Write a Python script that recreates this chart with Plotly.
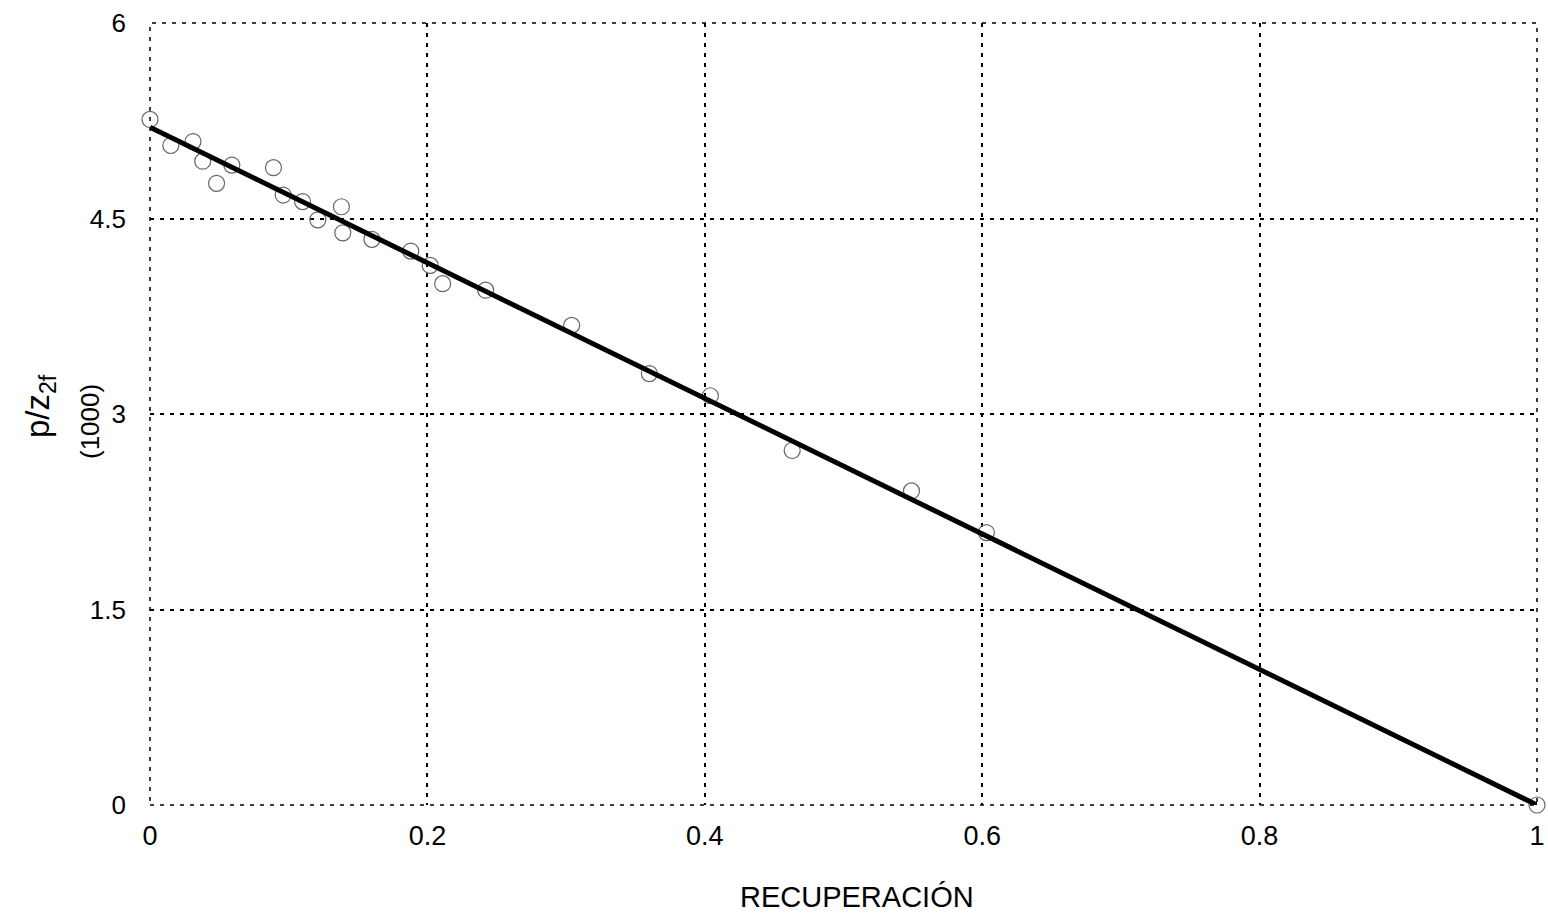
import plotly.graph_objects as go

# Data
recuperacion = [0.0, 0.015, 0.031, 0.038, 0.048, 0.059, 0.089, 0.096, 0.110, 0.121,
                0.138, 0.139, 0.160, 0.188, 0.202, 0.211, 0.242, 0.304, 0.360,
                0.404, 0.463, 0.549, 0.603, 1.0]
p_z = [5.26, 5.06, 5.09, 4.94, 4.77, 4.91, 4.89, 4.68, 4.63, 4.49,
       4.59, 4.39, 4.34, 4.25, 4.14, 4.00, 3.95, 3.68, 3.31,
       3.14, 2.72, 2.41, 2.09, 0.0]
fit_x = [0.0, 1.0]
fit_y = [5.2, 0.0]

x_ticks = [0, 0.2, 0.4, 0.6, 0.8, 1]
x_labels = ["0", "0.2", "0.4", "0.6", "0.8", "1"]
y_ticks = [0, 1.5, 3, 4.5, 6]
y_labels = ["0", "1.5", "3", "4.5", "6"]

font_family = "Liberation Sans, Arial, sans-serif"
grid_dash = "4px,6px"

fig = go.Figure()
fig.add_trace(go.Scatter(
    x=recuperacion, y=p_z, mode="markers",
    marker=dict(symbol="circle-open", size=16, color="#666666", line=dict(width=1.2)),
    showlegend=False, cliponaxis=False))
fig.add_trace(go.Scatter(
    x=fit_x, y=fit_y, mode="lines",
    line=dict(color="black", width=5), showlegend=False))

# dotted frame (gridlines at the range edges)
fig.add_shape(type="rect", xref="x domain", yref="y domain", x0=0, x1=1, y0=0, y1=1,
              line=dict(color="black", width=1.5, dash=grid_dash), layer="below")

fig.update_layout(
    width=1548, height=918,
    margin=dict(l=150, r=11, t=23, b=113),
    paper_bgcolor="white", plot_bgcolor="white",
    font=dict(family=font_family, color="black", size=26),
    xaxis=dict(
        range=[0, 1], tickvals=x_ticks, ticktext=x_labels, automargin=False,
        showgrid=True, gridcolor="black", griddash=grid_dash, gridwidth=1.5,
        zeroline=False, showline=False, ticks="",
        tickfont=dict(size=27), ticklabelstandoff=12,
    ),
    yaxis=dict(
        range=[0, 6], tickvals=y_ticks, ticktext=y_labels, automargin=False,
        showgrid=True, gridcolor="black", griddash=grid_dash, gridwidth=1.5,
        zeroline=False, showline=False, ticks="",
        tickfont=dict(size=26), ticklabelstandoff=23,
    ),
    annotations=[
        dict(text="RECUPERACIÓN", xref="paper", yref="paper", x=0.5, y=0,
             xanchor="center", yanchor="middle", xshift=13, yshift=-92,
             showarrow=False, font=dict(size=29)),
        dict(text="p/z<sub>2f</sub>", xref="paper", yref="paper", x=0, y=0.5,
             xanchor="center", yanchor="middle", xshift=-110, yshift=8,
             textangle=-90, showarrow=False, font=dict(size=33)),
        dict(text="(1000)", xref="paper", yref="paper", x=0, y=0.5,
             xanchor="center", yanchor="middle", xshift=-60, yshift=-8,
             textangle=-90, showarrow=False, font=dict(size=26)),
    ],
)
fig.write_html("out.html")
